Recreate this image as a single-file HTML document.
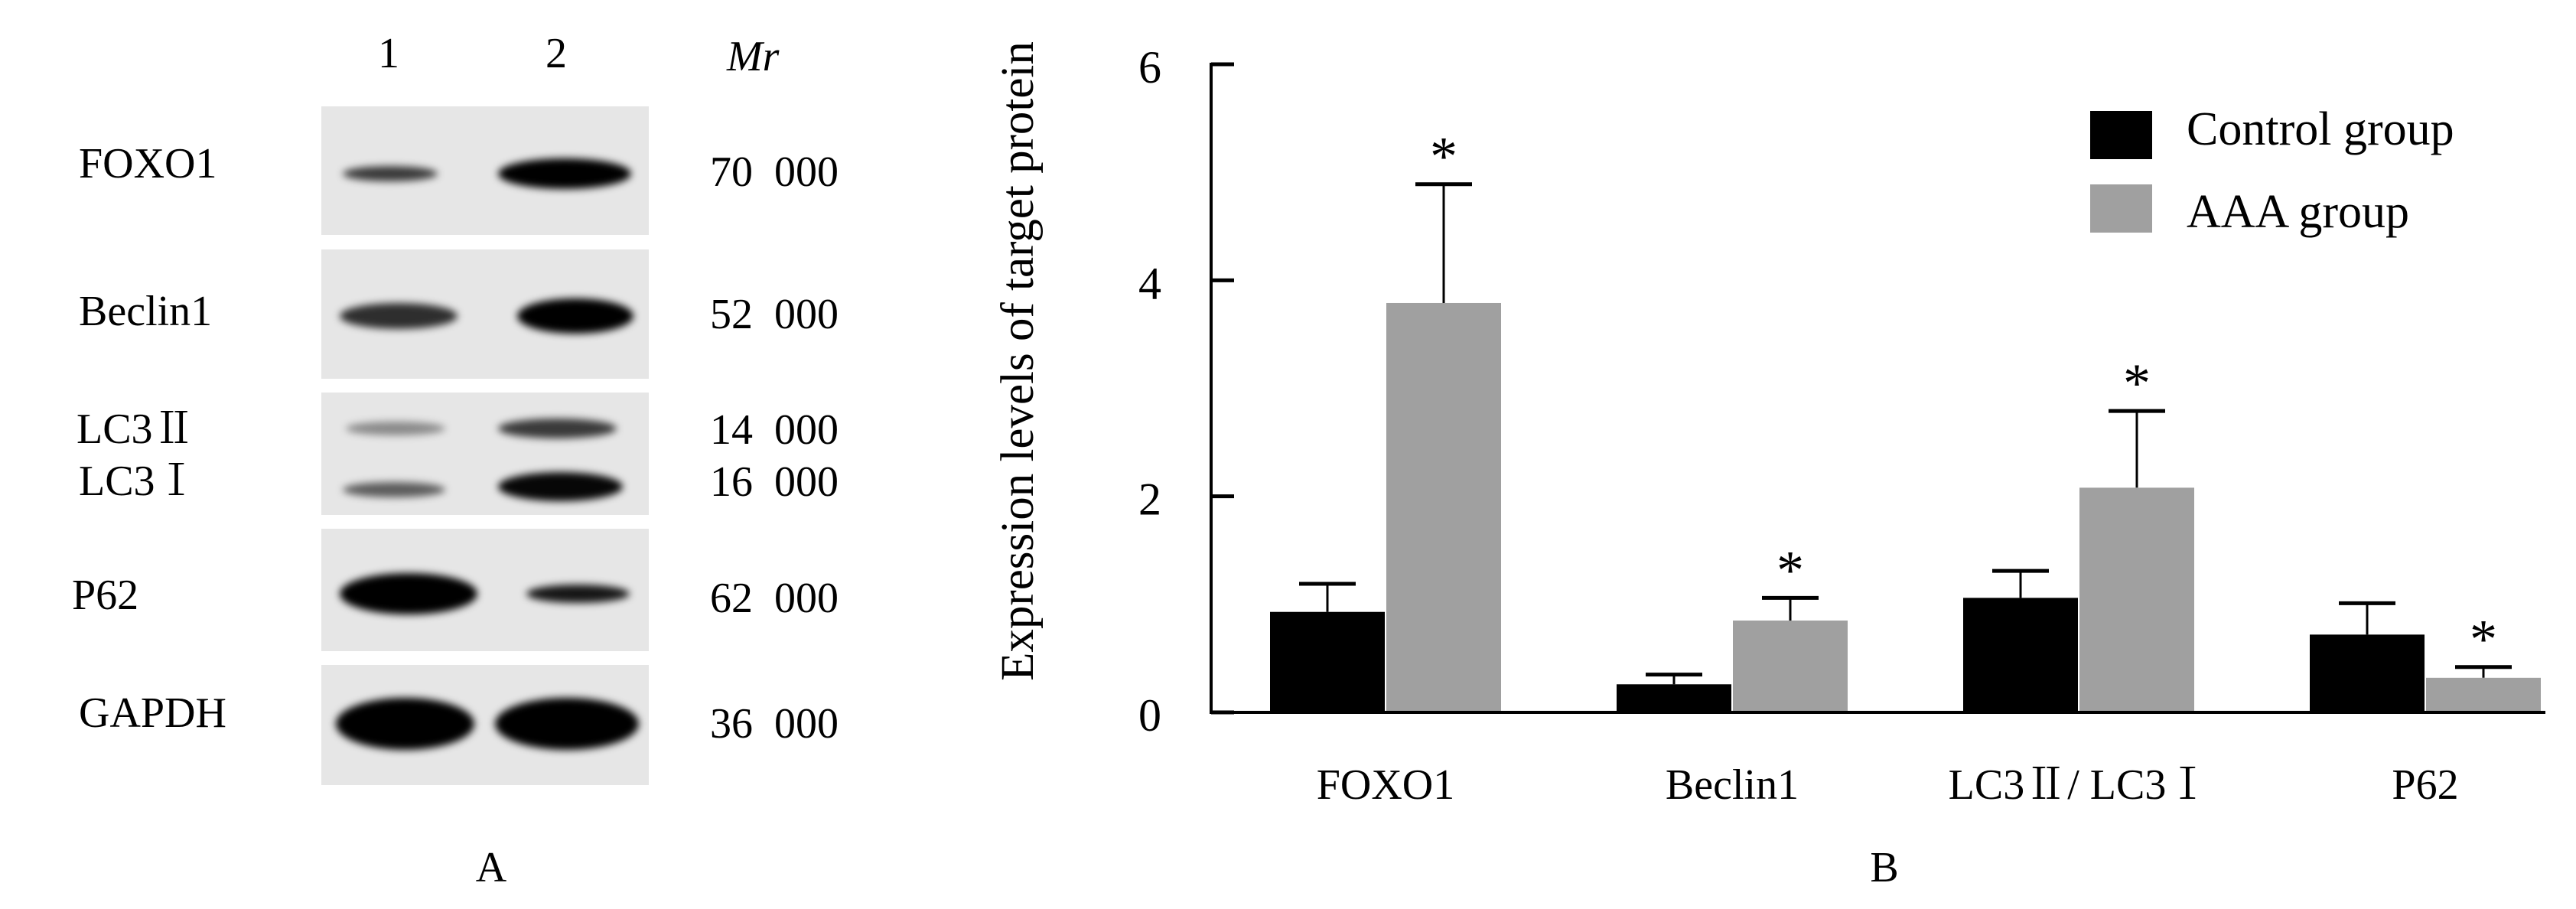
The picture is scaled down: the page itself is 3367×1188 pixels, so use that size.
<!DOCTYPE html>
<html><head><meta charset="utf-8"><style>
html,body{margin:0;padding:0;background:#fff;}
svg{display:block;font-family:"Liberation Serif","Noto Serif CJK SC",serif;}
.pre{white-space:pre;}
</style></head><body>
<svg id="fig" width="3367" height="1188" viewBox="0 0 3367 1188" xmlns="http://www.w3.org/2000/svg">
<defs>
<filter id="blur" x="-30%" y="-100%" width="160%" height="300%"><feGaussianBlur stdDeviation="5"/></filter>
</defs>
<g id="panelA" font-size="56">
  <text x="508" y="88" text-anchor="middle">1</text>
  <text x="727" y="88" text-anchor="middle">2</text>
  <text x="950" y="92" font-style="italic">Mr</text>
  <g id="blots"></g>
  <text x="642" y="1152" text-anchor="middle">A</text>
</g>
<g id="panelB"></g>
</svg>
<script>
// ---- Panel A (blot) data ----
const blotLabels = ["FOXO1","Beclin1","","P62","GAPDH"];
const mrValues = ["70  000","52  000","14  000","16  000","62  000","36  000"];

// ---- Panel B chart data ----
const categories = ["FOXO1","Beclin1","LC3\u2161/ LC3\u2160","P62"];
const controlValues = [0.93, 0.26, 1.06, 0.72];
const controlErrors = [0.26, 0.09, 0.25, 0.29];
const aaaValues = [3.79, 0.85, 2.08, 0.32];
const aaaErrors = [1.10, 0.21, 0.71, 0.10];
const yTicks = [0, 2, 4, 6];
const significant = [true, true, true, true];

const NS = "http://www.w3.org/2000/svg";
function mk(tag, attrs, parent, txt){
  const e = document.createElementNS(NS, tag);
  for (const k in attrs) e.setAttribute(k, attrs[k]);
  if (txt !== undefined) e.textContent = txt;
  parent.appendChild(e);
  return e;
}

// ---- Panel A rendering ----
const blots = document.getElementById("blots");
const rows = [[139,307],[326,495],[513,673],[691,851],[869,1026]];
const bands = [
  [[448,572,227,20,0.75],[651,825,227,40,1]],
  [[444,598,413,34,0.8],[676,828,413,46,1]],
  [[452,582,560,18,0.4],[651,806,560,26,0.75],[448,582,640,20,0.6],[651,814,636,38,0.97]],
  [[444,624,776,54,1],[688,823,776,24,0.9]],
  [[439,620,946,68,1],[647,835,946,68,1]]
];
rows.forEach((r,i)=>{
  const bg = mk("rect",{x:420,y:r[0],width:428,height:r[1]-r[0],fill:"#e6e6e6"},blots);
  
  
  bands[i].forEach(b=>{
    const el = mk("ellipse",{cx:(b[0]+b[1])/2,cy:b[2],rx:(b[1]-b[0])/2,ry:b[3]/2,fill:"#000","fill-opacity":b[4],filter:"url(#blur)"},blots);
    
    
  });
});
const panelA = document.getElementById("panelA");
const labelY = [212,405,0,776,930];
const labelX = [103,103,0,94,103];
blotLabels.forEach((t,i)=>{
  if(!t) return;
  const el = mk("text",{x:labelX[i],y:labelY[i]+20},panelA,t);
  
  
});
const lc2 = mk("text",{x:100,y:579},panelA,"LC3\u2161");


const lc1 = mk("text",{x:103,y:647},panelA,"LC3\u2160");


const mrY = [223,409,560,628,780,944];
mrValues.forEach((t,i)=>{
  const el = mk("text",{x:928,y:mrY[i]+20,"class":"pre"},panelA,t);
  
  
});

// ---- Panel B rendering ----
const g = document.getElementById("panelB");
const X0 = 1583, XEND = 3327, Y0 = 931, Y6 = 84;
const yMax = 6;
function yScale(v){ return Y0 - v/yMax*(Y0-Y6); }
const groupStart = 1660, groupStep = 453, barW = 150;
function xBar(i, s){ return groupStart + i*groupStep + s*152; }

yTicks.forEach(t=>{
  const y = yScale(t);
  const tk = mk("line",{x1:X0,x2:X0+30,y1:y,y2:y,stroke:"#000","stroke-width":5},g);
  
  
  const lb = mk("text",{x:1503,y:y+24,"text-anchor":"middle","font-size":60},g,String(t));
  
  
});

function drawBar(i, s, v, e, fill){
  const x = xBar(i,s), y = yScale(v);
  const cx = x + barW/2;
  const ey = yScale(v+e);
  const el = mk("line",{x1:cx,x2:cx,y1:y,y2:ey,stroke:"#000","stroke-width":3},g);
  
  
  const cap = mk("line",{x1:cx-37,x2:cx+37,y1:ey,y2:ey,stroke:"#000","stroke-width":5},g);
  
  
  const r = mk("rect",{x:x,y:y,width:barW,height:Y0-y,fill:fill},g);
  
  
  return {cx:cx, ey:ey};
}
categories.forEach((c,i)=>{
  drawBar(i,0,controlValues[i],controlErrors[i],"#000");
  const p = drawBar(i,1,aaaValues[i],aaaErrors[i],"#a0a0a0");
  if (significant[i]) {
    const st = mk("text",{x:p.cx,y:p.ey-12,"text-anchor":"middle","font-size":72},g,"*");
    
    
  }
  const lb = mk("text",{x:groupStart+i*groupStep+151,y:1044,"text-anchor":"middle","font-size":56},g,c);
  
  
});

const ya = mk("line",{x1:X0,x2:X0,y1:Y6-2,y2:Y0+2,stroke:"#000","stroke-width":4},g);


const xa = mk("line",{x1:X0,x2:XEND,y1:Y0,y2:Y0,stroke:"#000","stroke-width":4},g);



const yt = mk("text",{x:0,y:0,"text-anchor":"middle","font-size":61,transform:"translate(1350,472) rotate(-90)"},g,"Expression levels of target protein");



const lg1 = mk("rect",{x:2732,y:145,width:81,height:63,fill:"#000"},g);


const lt1 = mk("text",{x:2858,y:189,"font-size":62},g,"Control group");


const lg2 = mk("rect",{x:2732,y:241,width:81,height:63,fill:"#a0a0a0"},g);


const lt2 = mk("text",{x:2858,y:297,"font-size":62},g,"AAA group");



const bl = mk("text",{x:2463,y:1152,"text-anchor":"middle","font-size":56},g,"B");


</script>
</body></html>
